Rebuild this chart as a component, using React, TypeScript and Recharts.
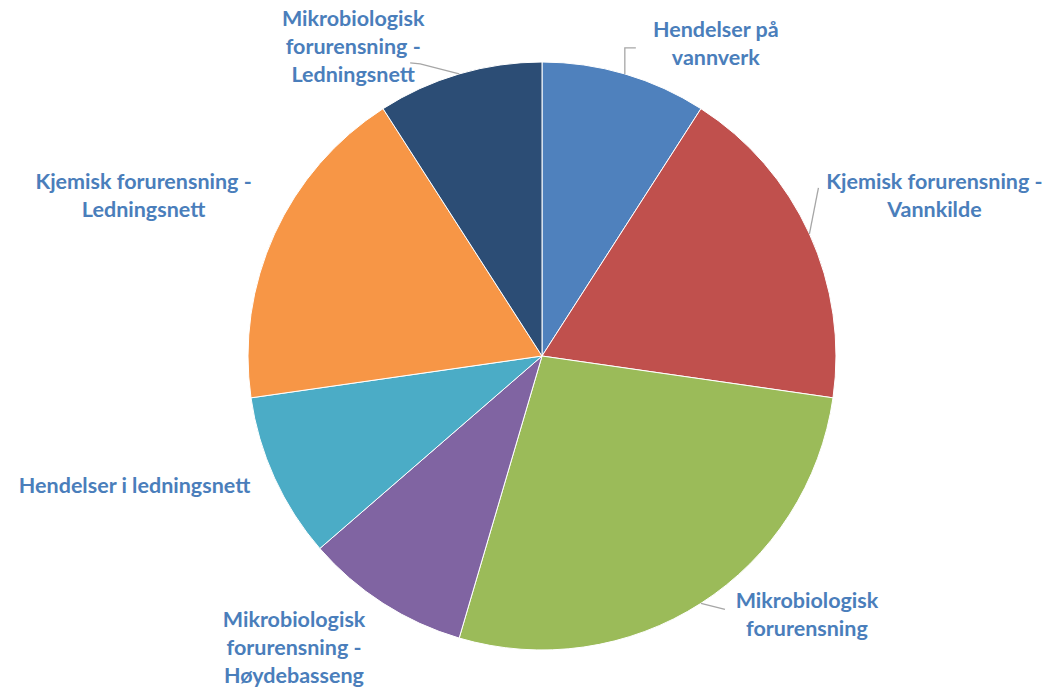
import React from 'react';
import { PieChart, Pie, Cell } from 'recharts';

const CATEGORIES: string[][] = [
  ['Hendelser på', 'vannverk'],
  ['Kjemisk forurensning -', 'Vannkilde'],
  ['Mikrobiologisk', 'forurensning'],
  ['Mikrobiologisk', 'forurensning -', 'Høydebasseng'],
  ['Hendelser i ledningsnett'],
  ['Kjemisk forurensning -', 'Ledningsnett'],
  ['Mikrobiologisk', 'forurensning -', 'Ledningsnett'],
];
const VALUES = [1, 2, 3, 1, 1, 2, 1];
const COLORS = ['#4F81BD', '#C0504D', '#9BBB59', '#8064A2', '#4BACC6', '#F79646', '#2C4D75'];

// label block centre, relative to the slice's outer-edge midpoint
const LABEL_OFFSETS = [
  [91, -30], [125, -38], [106, 11], [-89, 44], [-140, 7], [-131, -38], [-106, -27],
];
// leader line points, relative to the slice's outer-edge midpoint
const LEADERS: number[][][] = [
  [[0, -26], [11, -26]],
  [[9, -46]],
  [[24, 6]],
  [],
  [],
  [],
  [[-39, -10], [-49, -11]],
];

const data = VALUES.map((v, i) => ({ name: CATEGORIES[i].join(' '), value: v }));

const RAD = Math.PI / 180;
const LINE_H = 28;
const LABEL_COLOR = '#4A7EBB';

const renderLabel = (props: any) => {
  const { cx, cy, midAngle, outerRadius, index } = props;
  const ex = cx + Math.cos(-midAngle * RAD) * outerRadius;
  const ey = cy + Math.sin(-midAngle * RAD) * outerRadius;
  const lines = CATEGORIES[index];
  const [dx, dy] = LABEL_OFFSETS[index];
  const lx = ex + dx;
  const firstBase = ey + dy - ((lines.length - 1) * LINE_H) / 2 + 7.5;
  const pts = LEADERS[index];
  const path = pts.length
    ? `M${ex},${ey}` + pts.map((p) => ` L${ex + p[0]},${ey + p[1]}`).join('')
    : '';
  return (
    <g key={`lbl-${index}`}>
      {path && <path d={path} stroke="#A6A6A6" strokeWidth={1.3} fill="none" />}
      <text
        x={lx}
        y={firstBase}
        textAnchor="middle"
        fill={LABEL_COLOR}
        fontFamily="Lato, 'Open Sans', sans-serif"
        fontWeight={700}
        fontSize={21.5}
      >
        {lines.map((t, i) => (
          <tspan key={i} x={lx} y={firstBase + i * LINE_H}>
            {t}
          </tspan>
        ))}
      </text>
    </g>
  );
};

export default function App() {
  return (
    <div style={{ position: 'absolute', left: 0, top: 0, width: 1050, height: 688, background: '#fff' }}>
      <PieChart width={1050} height={688} margin={{ top: 0, right: 0, bottom: 0, left: 0 }}>
        <Pie
          data={data}
          dataKey="value"
          nameKey="name"
          cx={542}
          cy={356}
          outerRadius={294}
          startAngle={90}
          endAngle={-270}
          stroke="#fff"
          strokeWidth={1}
          label={renderLabel}
          labelLine={false}
          isAnimationActive={false}
        >
          {data.map((d, i) => (
            <Cell key={d.name + i} fill={COLORS[i]} />
          ))}
        </Pie>
      </PieChart>
    </div>
  );
}
